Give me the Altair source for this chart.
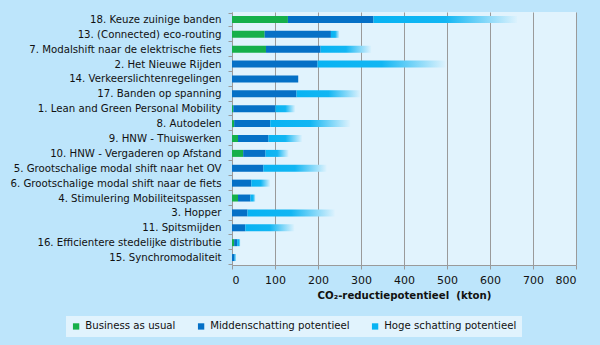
import altair as alt
import pandas as pd

labels = [
    "18. Keuze zuinige banden",
    "13. (Connected) eco-routing",
    "7. Modalshift naar de elektrische fiets",
    "2. Het Nieuwe Rijden",
    "14. Verkeerslichtenregelingen",
    "17. Banden op spanning",
    "1. Lean and Green Personal Mobility",
    "8. Autodelen",
    "9. HNW - Thuiswerken",
    "10. HNW - Vergaderen op Afstand",
    "5. Grootschalige modal shift naar het OV",
    "6. Grootschalige modal shift naar de fiets",
    "4. Stimulering Mobiliteitspassen",
    "3. Hopper",
    "11. Spitsmijden",
    "16. Efficientere stedelijke distributie",
    "15. Synchromodaliteit",
]
# cumulative end positions (kton) of each segment
bau = [130, 76, 79, 0, 0, 0, 3, 5, 14, 26, 0, 0, 14, 0, 0, 5, 0]
mid = [329, 230, 206, 199, 154, 150, 101, 89, 85, 78, 73, 45, 43, 36, 31, 12, 6]
high = [663, 250, 324, 497, 154, 299, 147, 275, 163, 132, 220, 89, 55, 239, 145, 20, 9]

series = ["Business as usual", "Middenschatting potentieel", "Hoge schatting potentieel"]
colors = ["#16B04A", "#0570C6", "#08B3F3"]
ticks = [0, 100, 200, 300, 400, 500, 600, 700, 800]

rows = []
for lab, b, m in zip(labels, bau, mid):
    if b > 0:
        rows.append(dict(label=lab, series=series[0], start=0, end=b))
    rows.append(dict(label=lab, series=series[1], start=b, end=m))
solid = pd.DataFrame(rows)
light = pd.DataFrame(
    [dict(label=l, series=series[2], start=m, end=h) for l, m, h in zip(labels, mid, high) if h > m]
)

FONT = "DejaVu Sans"

y = alt.Y(
    "label:N",
    sort=labels,
    title=None,
    axis=alt.Axis(
        labelFontSize=10.2,
        labelColor="#111111",
        domainColor="#9a9a9a",
        tickColor="#9a9a9a",
        tickBand="extent",
        tickSize=4,
        labelPadding=7,
        labelLimit=400,
        grid=False,
    ),
)
x = alt.X(
    "start:Q",
    scale=alt.Scale(domain=[0, 800], nice=False),
    axis=alt.Axis(
        values=ticks,
        title="CO₂-reductiepotentieel\u00a0\u00a0(kton)",
        grid=True,
        gridColor="#9a9a9a",
        tickColor="#9a9a9a",
        domainColor="#9a9a9a",
        tickSize=4,
        labelFontSize=11,
        labelColor="#111111",
        labelPadding=5,
        titleFontSize=10.2,
        titleFontWeight="bold",
        titleColor="#111111",
        titlePadding=5,
    ),
)

solid_chart = alt.Chart(solid).mark_bar(size=7).encode(
    y=y,
    x=x,
    x2="end:Q",
    color=alt.Color(
        "series:N",
        scale=alt.Scale(domain=series, range=colors),
        legend=alt.Legend(title=None),
    ),
)

grad = alt.LinearGradient(
    gradient="linear",
    x1=0, x2=1, y1=0, y2=0,
    stops=[
        alt.GradientStop(offset=0, color="#08B3F3"),
        alt.GradientStop(offset=0.5, color="#12B6F3"),
        alt.GradientStop(offset=1, color="#DDF2FD"),
    ],
)
light_chart = alt.Chart(light).mark_bar(size=7, fill=grad).encode(
    y=y,
    x=x,
    x2="end:Q",
)

chart = (
    alt.layer(solid_chart, light_chart)
    .properties(
        width=344,
        height=253,
        autosize=alt.AutoSizeParams(type="none"),
        padding={"left": 232, "top": 12, "right": 24, "bottom": 80},
        background="#BDE5FB",
    )
    .configure(font=FONT)
    .configure_view(fill="#E1F3FD", stroke=None)
    .configure_legend(
        orient="none",
        legendX=-166,
        legendY=304,
        direction="horizontal",
        fillColor="#E1F3FD",
        padding=5,
        symbolType="square",
        symbolSize=40,
        labelFontSize=10.2,
        labelColor="#111111",
        columnPadding=20,
    )
)

chart.save("out.html", embed_options={"renderer": "svg", "actions": False})
